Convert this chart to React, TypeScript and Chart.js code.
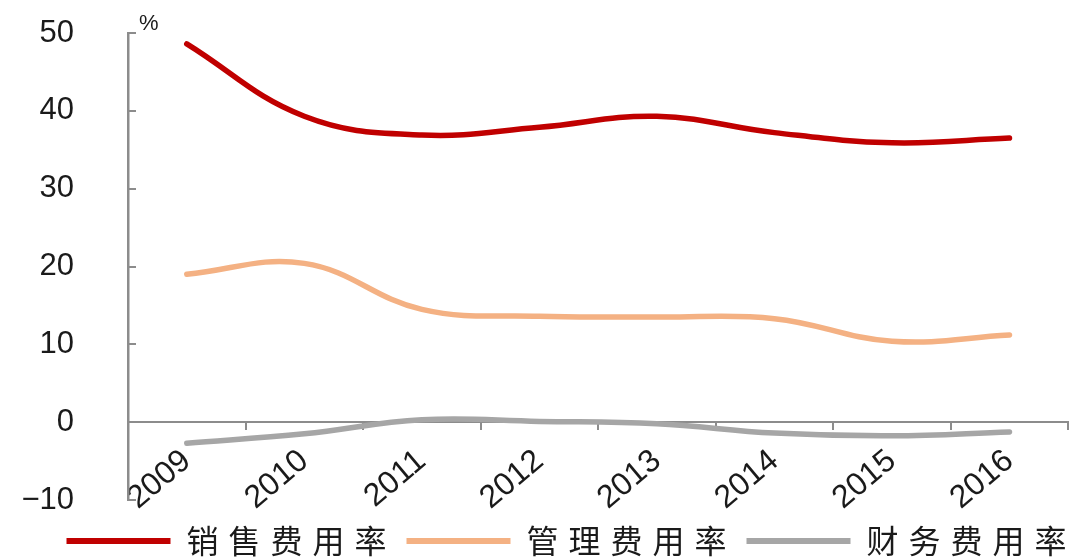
import { useEffect, useRef } from "react";
import { Chart, registerables } from "chart.js";

Chart.register(...registerables);

// Expense ratios by year, in percent
const years = ["2009", "2010", "2011", "2012", "2013", "2014", "2015", "2016"];
const sellingRate = [48.6, 39.3, 36.9, 37.9, 39.3, 37.2, 35.9, 36.5];
const adminRate = [19.0, 20.4, 14.5, 13.6, 13.5, 13.3, 10.4, 11.2];
const financeRate = [-2.7, -1.5, 0.3, 0.1, -0.2, -1.4, -1.75, -1.25];

const seriesNames = ["销售费用率", "管理费用率", "财务费用率"];
const seriesColors = ["#C00000", "#F4B183", "#A6A6A6"];

const yMin = -10;
const yMax = 50;
const yStep = 10;
const unitLabel = "%";

const axisColor = "#8C8C8C";
const textColor = "#1A1A1A";
const numFont = '"Liberation Sans", Arial, sans-serif';
const cjkFont = '"Noto Sans CJK SC", "Noto Sans CJK TC", sans-serif';

// Legend band below the plot: total height, row centre, sideways offset
const legendBand = 58;
const legendRowCenter = 41;
const legendOffsetX = 37;
const legendSpacing = "10px";

// Short inward tick marks on the value axis, plus the unit label above it
const axisDecor = {
  id: "axisDecor",
  afterDraw(chart: any) {
    const y = chart.scales.y;
    const ctx = chart.ctx as CanvasRenderingContext2D;
    ctx.save();
    ctx.strokeStyle = axisColor;
    ctx.lineWidth = 2;
    y.ticks.forEach((t: any) => {
      const py = Math.round(y.getPixelForValue(t.value));
      ctx.beginPath();
      ctx.moveTo(y.right, py);
      ctx.lineTo(y.right + 8, py);
      ctx.stroke();
    });
    ctx.fillStyle = textColor;
    ctx.font = `22px ${numFont}`;
    ctx.textAlign = "left";
    ctx.textBaseline = "bottom";
    ctx.fillText(unitLabel, y.right + 11, y.top + 2);
    ctx.restore();
  },
};

export default function App() {
  const canvasRef = useRef<HTMLCanvasElement | null>(null);

  useEffect(() => {
    const canvas = canvasRef.current;
    if (!canvas) return;
    const values = [sellingRate, adminRate, financeRate];

    const chart = new Chart(canvas, {
      type: "line",
      data: {
        labels: years,
        datasets: values.map((v, i) => ({
          label: seriesNames[i],
          data: v,
          borderColor: seriesColors[i],
          backgroundColor: seriesColors[i],
          borderWidth: 5.5,
          borderCapStyle: "round" as const,
          pointRadius: 0,
          pointHoverRadius: 0,
          tension: 0.4,
          fill: false,
        })),
      },
      options: {
        animation: false,
        responsive: false,
        maintainAspectRatio: false,
        layout: { padding: { top: 33, right: 2, bottom: 0, left: 0 } },
        scales: {
          x: {
            type: "category",
            offset: true,
            position: { y: 0 } as any,
            grid: {
              display: true,
              offset: true,
              drawOnChartArea: false,
              drawTicks: true,
              tickLength: 7,
              color: axisColor,
              lineWidth: 2,
            },
            border: { display: true, color: axisColor, width: 2 },
            ticks: {
              autoSkip: false,
              minRotation: 40,
              maxRotation: 40,
              padding: 13,
              color: textColor,
              font: { family: numFont, size: 32 },
            },
          },
          y: {
            min: yMin,
            max: yMax,
            afterFit: (scale: any) => {
              scale.width = 128;
            },
            grid: { display: false, drawTicks: true, tickLength: 48 },
            border: { display: true, color: axisColor, width: 2.5 },
            ticks: {
              stepSize: yStep,
              padding: 6,
              color: textColor,
              font: { family: numFont, size: 31 },
              callback: (v: any) => (Number(v) < 0 ? "\u2212" + Math.abs(Number(v)) : String(v)),
            },
          },
        },
        plugins: {
          tooltip: { enabled: false },
          legend: {
            position: "bottom",
            align: "center",
            labels: {
              boxWidth: 104,
              boxHeight: 6,
              padding: 10,
              color: textColor,
              font: { family: cjkFont, size: 32 },
              generateLabels: (c: any) =>
                Chart.defaults.plugins.legend.labels
                  .generateLabels(c)
                  .map((l: any) => ({ ...l, lineWidth: 0 })),
            },
          },
        },
      },
      plugins: [axisDecor],
    });

    // Letter-spaced legend captions, placed in a fixed band under the plot
    const legend: any = (chart as any).legend;
    const ctx = chart.ctx as any;
    const origFit = legend.fit.bind(legend);
    const origDraw = legend.draw.bind(legend);
    let shift = 0;
    legend.fit = () => {
      ctx.save();
      ctx.letterSpacing = legendSpacing;
      origFit();
      ctx.restore();
      shift = legendRowCenter - legend.height / 2;
      legend.height = legendBand;
    };
    legend.draw = () => {
      ctx.save();
      ctx.letterSpacing = legendSpacing;
      ctx.translate(legendOffsetX, shift);
      origDraw();
      ctx.restore();
    };
    chart.update();

    return () => chart.destroy();
  }, []);

  return (
    <div style={{ position: "absolute", left: 0, top: 0, width: 1071, height: 558, background: "#fff" }}>
      <canvas ref={canvasRef} width={1071} height={558} style={{ width: 1071, height: 558 }} />
    </div>
  );
}
